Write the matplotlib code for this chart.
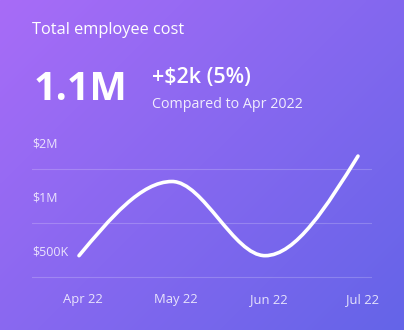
import numpy as np
import matplotlib
matplotlib.use("Agg")
import matplotlib.pyplot as plt
from matplotlib.path import Path
from matplotlib.patches import PathPatch
import matplotlib.transforms as mtransforms

# ---------------- data ----------------
months = ["Apr 22", "May 22", "Jun 22", "Jul 22"]
cost = [660_000, 1_710_000, 660_000, 2_370_000]
y_ticks = [500_000, 1_000_000, 2_000_000]
y_tick_labels = ["$500K", "$1M", "$2M"]
title = "Total employee cost"
kpi_value = "1.1M"
kpi_delta = "+$2k (5%)"
kpi_compare = "Compared to Apr 2022"

W, H, DPI = 404, 330, 100
FONT = ["Open Sans", "DejaVu Sans"]
plt.rcParams["font.family"] = FONT

fig = plt.figure(figsize=(W / DPI, H / DPI), dpi=DPI)

# ---------------- gradient background ----------------
bg = fig.add_axes([0, 0, 1, 1])
bg.set_axis_off()
yy, xx = np.mgrid[0:1:200j, 0:1:240j]
t = (xx * W + yy * H) / (W + H)
tl = np.array([168, 108, 247]) / 255
br = np.array([100, 100, 232]) / 255
img = tl[None, None, :] * (1 - t[..., None]) + br[None, None, :] * t[..., None]
bg.imshow(img, extent=[0, 1, 0, 1], aspect="auto", origin="upper", interpolation="bilinear")
bg.set_xlim(0, 1)
bg.set_ylim(0, 1)

# ---------------- chart axes ----------------
px_left, px_right = 32, 372
px_grid0 = 277.3           # pixel row of the lowest gridline
px_bottom, px_top = 281.0, 150.0
ax = fig.add_axes([px_left / W, 1 - px_bottom / H, (px_right - px_left) / W, (px_bottom - px_top) / H])
ax.patch.set_alpha(0)
ax.set_yscale("log", base=2)
px_per_oct = 54.0
ax.set_ylim(y_ticks[0] * 2 ** (-(px_bottom - px_grid0) / px_per_oct),
            y_ticks[0] * 2 ** ((px_grid0 - px_top) / px_per_oct))
sp = 93.0
ax.set_xlim(-(79 - px_left) / sp, 3 + (px_right - 358) / sp)
for s in ax.spines.values():
    s.set_visible(False)

ax.set_yticks(y_ticks)
ax.set_yticklabels([])
ax.yaxis.set_minor_locator(matplotlib.ticker.NullLocator())
ax.tick_params(axis="y", length=0)
ax.yaxis.grid(True, color="white", alpha=0.2, lw=0.8)

ylab_trans = mtransforms.offset_copy(ax.get_yaxis_transform(), fig=fig, x=0, y=25.5, units="dots")
for v, lab in zip(y_ticks, y_tick_labels):
    ax.text(0, v, lab, transform=ylab_trans, ha="left", va="center",
            fontsize=9, color="white", alpha=0.82)

xs = np.arange(len(months))
ax.set_xticks(xs)
ax.set_xticklabels([])
ax.tick_params(axis="x", length=0)
xlab_trans = mtransforms.offset_copy(ax.transData, fig=fig, x=4, y=0, units="dots")
xlab_trans = mtransforms.blended_transform_factory(
    xlab_trans, mtransforms.offset_copy(ax.transAxes, fig=fig, x=0, y=-(300 - px_bottom), units="dots"))
for x, lab in zip(xs, months):
    ax.text(x, 0, lab, transform=xlab_trans, ha="center", va="center",
            fontsize=9.4, color="white", alpha=0.82)

# monotone cubic (d3 monotoneX style) curve through the data, in log space
u = np.log2(np.array(cost, dtype=float))
h = np.diff(xs).astype(float)
s = np.diff(u) / h
tan = np.zeros(len(u))
for i in range(1, len(u) - 1):
    if s[i - 1] * s[i] <= 0:
        tan[i] = 0.0
    else:
        p = (s[i - 1] * h[i] + s[i] * h[i - 1]) / (h[i - 1] + h[i])
        tan[i] = np.sign(s[i - 1]) * min(abs(s[i - 1]), abs(s[i]), 0.5 * abs(p))
tan[0] = (3 * s[0] - tan[1]) / 2
tan[-1] = (3 * s[-1] - tan[-2]) / 2

verts = [(xs[0], cost[0])]
codes = [Path.MOVETO]
for i in range(len(u) - 1):
    dx = h[i]
    c1 = (xs[i] + dx / 3, 2 ** (u[i] + dx * tan[i] / 3))
    c2 = (xs[i + 1] - dx / 3, 2 ** (u[i + 1] - dx * tan[i + 1] / 3))
    verts += [c1, c2, (xs[i + 1], cost[i + 1])]
    codes += [Path.CURVE4] * 3
patch = PathPatch(Path(verts, codes), fill=False, edgecolor="white", lw=2.6,
                  capstyle="round", joinstyle="round", clip_on=False, zorder=3)
ax.add_patch(patch)

# ---------------- header texts ----------------
fig.text(32 / W, 1 - 34 / H, title, ha="left", va="baseline", fontsize=11.8, color="white")
fig.text(34 / W, 1 - 100.5 / H, kpi_value, ha="left", va="baseline", fontsize=28.5,
         fontweight="bold", color="white")
fig.text(152 / W, 1 - 83.3 / H, kpi_delta, ha="left", va="baseline", fontsize=15.5,
         fontweight="semibold", color="white")
fig.text(152 / W, 1 - 108 / H, kpi_compare, ha="left", va="baseline", fontsize=10.3,
         color="white", alpha=0.88)

fig.savefig("out.png", dpi=DPI)
